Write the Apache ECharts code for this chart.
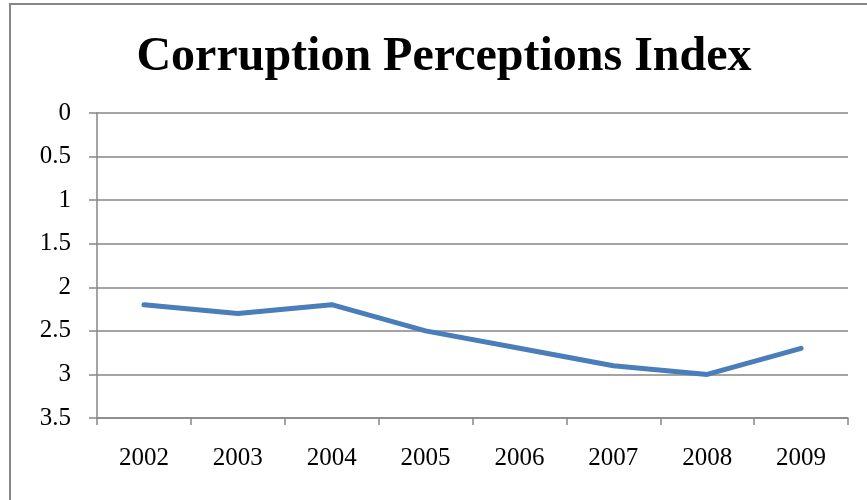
<!DOCTYPE html>
<html><head><meta charset="utf-8">
<script src="https://cdn.jsdelivr.net/npm/echarts@6/dist/echarts.min.js"></script>
<style>html,body{margin:0;padding:0;background:#fff}#c{width:867px;height:500px}</style>
</head><body><div id="c"></div>
<script>
const years = ['2002','2003','2004','2005','2006','2007','2008','2009'];
const cpi = [2.2, 2.3, 2.2, 2.5, 2.7, 2.9, 3.0, 2.7];
const yTicks = {min: 0, max: 3.5, interval: 0.5};

const chart = echarts.init(document.getElementById('c'));
chart.setOption({
  animation: false,
  backgroundColor: '#fff',
  title: {
    text: 'Corruption Perceptions Index',
    left: 439, top: 29, textAlign: 'center',
    textStyle: {fontFamily: 'Liberation Serif', fontWeight: 'bold', fontSize: 48, color: '#000'}
  },
  graphic: [{
    type: 'rect', shape: {x: 10, y: 4, width: 900, height: 540},
    style: {fill: 'none', stroke: '#868686', lineWidth: 2}, silent: true
  }],
  grid: {left: 97, right: 19, top: 113, bottom: 82},
  xAxis: {
    type: 'category', data: years, boundaryGap: true, position: 'bottom',
    axisLine: {onZero: false, lineStyle: {color: '#868686', width: 1.5}},
    axisTick: {show: true, length: 7, lineStyle: {color: '#868686', width: 1.5}},
    axisLabel: {margin: 28, fontFamily: 'Liberation Serif', fontSize: 25, color: '#000'},
    splitLine: {show: false}
  },
  yAxis: {
    type: 'value', inverse: true, min: yTicks.min, max: yTicks.max, interval: yTicks.interval,
    axisLine: {show: true, lineStyle: {color: '#868686', width: 1.5}},
    axisTick: {show: true, length: 8, inside: false, lineStyle: {color: '#868686', width: 1.5}},
    axisLabel: {margin: 26, fontFamily: 'Liberation Serif', fontSize: 25, color: '#000'},
    splitLine: {show: true, lineStyle: {color: '#868686', width: 1.5}}
  },
  series: [{
    type: 'line', data: cpi, showSymbol: false, symbol: 'none',
    lineStyle: {color: '#4A7EBB', width: 5, cap: 'round', join: 'round'}
  }]
});
</script></body></html>
